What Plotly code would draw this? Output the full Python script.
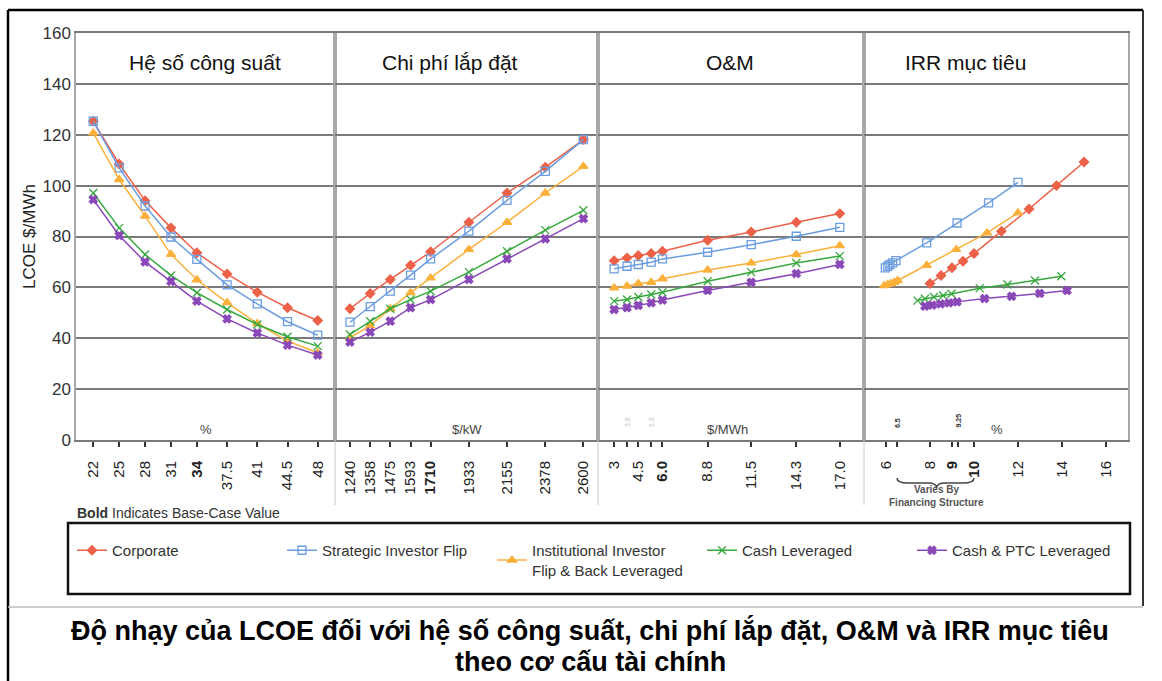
import plotly.graph_objects as go

# ---------------- data ----------------
series_names = ["Corporate", "Strategic Investor Flip",
                "Institutional Investor<br>Flip & Back Leveraged",
                "Cash Leveraged", "Cash & PTC Leveraged"]

# Panel 1: capacity factor (%)
cf_x = [22, 25, 28, 31, 34, 37.5, 41, 44.5, 48]
cf_ticktext = ["22", "25", "28", "31", "<b>34</b>", "37.5", "41", "44.5", "48"]
cf_corporate = [125.3, 108.5, 94.1, 83.4, 73.6, 65.3, 58.1, 52.0, 47.0]
cf_strategic = [125.3, 107.0, 92.0, 79.8, 71.0, 61.0, 53.5, 46.5, 41.2]
cf_institutional = [120.7, 102.4, 88.0, 73.0, 63.0, 54.0, 45.8, 38.9, 34.3]
cf_cash = [97.1, 83.4, 72.9, 64.7, 57.9, 51.3, 45.4, 40.6, 36.9]
cf_cash_ptc = [94.5, 80.4, 70.0, 62.4, 54.6, 47.6, 42.1, 37.3, 33.4]

# Panel 2: installed cost ($/kW)
ic_x = [1240, 1358, 1475, 1593, 1710, 1933, 2155, 2378, 2600]
ic_ticktext = ["1240", "1358", "1475", "1593", "<b>1710</b>", "1933", "2155", "2378", "2600"]
ic_corporate = [51.6, 57.6, 63.1, 68.7, 74.0, 85.6, 97.1, 107.2, 118.1]
ic_strategic = [46.3, 52.4, 58.5, 64.8, 71.2, 82.1, 94.2, 105.6, 118.1]
ic_institutional = [40.2, 45.0, 51.6, 57.9, 63.7, 74.9, 85.6, 97.1, 107.6]
ic_cash = [41.5, 46.7, 51.6, 55.2, 58.5, 66.0, 74.2, 82.5, 90.3]
ic_cash_ptc = [38.5, 42.4, 46.7, 52.0, 55.2, 63.1, 71.2, 79.1, 87.0]

# Panel 3: O&M ($/MWh)
om_x = [3, 3.8, 4.5, 5.3, 6.0, 8.8, 11.5, 14.3, 17.0]
om_ticktext = ["3", "", "4.5", "", "<b>6.0</b>", "8.8", "11.5", "14.3", "17.0"]
om_faint_labels = ["3.8", "5.3"]
om_faint_x = [3.8, 5.3]
om_corporate = [70.5, 71.6, 72.5, 73.3, 74.2, 78.5, 81.8, 85.6, 89.0]
om_strategic = [67.3, 68.3, 69.0, 69.9, 71.2, 73.8, 76.8, 80.1, 83.6]
om_institutional = [59.8, 60.5, 61.5, 62.0, 63.4, 66.8, 69.6, 72.9, 76.4]
om_cash = [54.6, 55.2, 56.2, 57.2, 58.1, 62.4, 66.0, 69.6, 72.3]
om_cash_ptc = [51.3, 52.0, 52.9, 53.9, 55.0, 58.8, 62.0, 65.4, 69.0]

# Panel 4: target IRR (%)
irr_tickvals = [6, 6.5, 8, 9, 9.25, 10, 12, 14, 16]
irr_ticktext = ["6", "", "8", "<b>9</b>", "", "<b>10</b>", "12", "14", "16"]
irr_small_labels = ["6.5", "9.25"]
irr_small_x = [6.5, 9.25]
irr_corporate_x = [8, 8.5, 9, 9.5, 10, 11.25, 12.5, 13.75, 15]
irr_corporate = [61.5, 64.7, 67.7, 70.3, 73.3, 82.1, 90.8, 100.0, 109.3]
irr_strategic_x = [5.97, 6.08, 6.18, 6.3, 6.45, 7.85, 9.23, 10.66, 12.0]
irr_strategic = [67.7, 68.3, 69.0, 69.6, 70.5, 77.5, 85.3, 93.2, 101.3]
irr_institutional_x = [5.92, 6.08, 6.23, 6.38, 6.53, 7.85, 9.19, 10.59, 12.0]
irr_institutional = [60.7, 61.1, 61.5, 62.0, 62.7, 68.7, 74.9, 81.4, 89.3]
irr_cash_x = [7.43, 7.77, 8.18, 8.6, 8.98, 10.26, 11.52, 12.77, 13.97]
irr_cash = [54.8, 55.5, 56.2, 56.8, 57.5, 59.7, 61.1, 62.7, 64.4]
irr_cash_ptc_x = [7.77, 8.1, 8.48, 8.86, 9.23, 10.48, 11.71, 12.99, 14.23]
irr_cash_ptc = [52.6, 53.0, 53.5, 53.9, 54.3, 55.6, 56.5, 57.6, 58.8]

panel_titles = ["Hệ số công suất", "Chi phí lắp đặt", "O&M", "IRR mục tiêu"]
panel_units = ["%", "$/kW", "$/MWh", "%"]
y_ticks = [0, 20, 40, 60, 80, 100, 120, 140, 160]
chart_title_lines = ["Độ nhạy của LCOE đối với hệ số công suất, chi phí lắp đặt, O&M và IRR mục tiêu",
                     "theo cơ cấu tài chính"]

# ---------------- layout helpers (pixel -> paper) ----------------
W, H = 1162, 681
ML, MR, MT, MB = 76, 34, 33, 241
PW, PH = W - ML - MR, H - MT - MB


def px(xp):
    return (xp - ML) / PW


def py(yp):
    return (H - MB - yp) / PH


bounds = [76, 335, 598, 864, 1128]
domains = [[px(bounds[i]), px(bounds[i + 1])] for i in range(4)]
x_ranges = [[20, 50], [1153, 2685], [2, 18.5], [5, 17]]

styles = [
    dict(color="#ec6148", symbol="diamond", size=7),
    dict(color="#6b9de0", symbol="square-open", size=8),
    dict(color="#fbb03b", symbol="triangle-up", size=8),
    dict(color="#38a83e", symbol="x-thin-open", size=8),
    dict(color="#8a48b8", symbol="x", size=7),
]

panels = [
    ("x", [cf_x] * 5, [cf_corporate, cf_strategic, cf_institutional, cf_cash, cf_cash_ptc]),
    ("x2", [ic_x] * 5, [ic_corporate, ic_strategic, ic_institutional, ic_cash, ic_cash_ptc]),
    ("x3", [om_x] * 5, [om_corporate, om_strategic, om_institutional, om_cash, om_cash_ptc]),
    ("x4", [irr_corporate_x, irr_strategic_x, irr_institutional_x, irr_cash_x, irr_cash_ptc_x],
     [irr_corporate, irr_strategic, irr_institutional, irr_cash, irr_cash_ptc]),
]

fig = go.Figure()
for pi, (xa, xs, ys) in enumerate(panels):
    for si in range(5):
        st = styles[si]
        fig.add_trace(go.Scatter(
            x=xs[si], y=ys[si], xaxis=xa, yaxis="y",
            mode="lines+markers", name=series_names[si],
            legendgroup=str(si), showlegend=(pi == 0),
            line=dict(color=st["color"], width=1.5),
            marker=dict(color=st["color"], symbol=st["symbol"], size=st["size"],
                        line=dict(color=st["color"], width=1.3)),
        ))

font_family = "Liberation Sans, Arial, sans-serif"
tick_sets = [(cf_x, cf_ticktext), (ic_x, ic_ticktext), (om_x, om_ticktext), (irr_tickvals, irr_ticktext)]

layout = dict(
    width=W, height=H, autosize=False,
    margin=dict(l=ML, r=MR, t=MT, b=MB, pad=0),
    paper_bgcolor="white", plot_bgcolor="white",
    font=dict(family=font_family, color="#222"),
    showlegend=True,
    legend=dict(orientation="h", x=px(72), xanchor="left", y=py(560), yanchor="middle",
                font=dict(size=15, color="#333"), entrywidth=165, entrywidthmode="pixels",
                itemwidth=30, bgcolor="rgba(0,0,0,0)", borderwidth=0),
    yaxis=dict(range=[0, 160], tickvals=y_ticks, showgrid=True, gridcolor="#7a7a7a", gridwidth=2,
               zeroline=False, showline=True, linecolor="#a8a8a8", linewidth=1.5, mirror="all",
               ticks="", tickfont=dict(size=17, color="#333"),
               title=dict(text="LCOE $/MWh", font=dict(size=17, color="#222"), standoff=3),
               anchor="x", fixedrange=True),
)
for i in range(4):
    key = "xaxis" if i == 0 else "xaxis%d" % (i + 1)
    tv, tt = tick_sets[i]
    layout[key] = dict(domain=domains[i], range=x_ranges[i], anchor="y",
                       tickmode="array", tickvals=tv, ticktext=tt, tickangle=-90,
                       ticks="outside", ticklen=5, tickwidth=2, tickcolor="#333",
                       ticklabelstandoff=8,
                       tickfont=dict(size=15, color="#222"),
                       showgrid=False, zeroline=False, showline=True, linecolor="#7a7a7a",
                       linewidth=2, mirror=True, fixedrange=True)
fig.update_layout(**layout)

ann = []
title_x = [205, 450, 730, 965]
for i in range(4):
    ann.append(dict(text=panel_titles[i], x=px(title_x[i]), xref="paper", y=148.6, yref="y",
                    showarrow=False, font=dict(size=21, color="#111"), xanchor="center", yanchor="middle"))
unit_x = [206, 467, 727, 997]
for i in range(4):
    ann.append(dict(text=panel_units[i], x=px(unit_x[i]), xref="paper", y=py(429), yref="paper",
                    showarrow=False, font=dict(size=13, color="#444"), xanchor="center", yanchor="middle"))
for lab, xv in zip(om_faint_labels, om_faint_x):
    ann.append(dict(text=lab, x=xv, xref="x3", y=py(429), yref="paper", textangle=-90,
                    showarrow=False, font=dict(size=7, color="#c8c8c8")))
for lab, xv in zip(irr_small_labels, irr_small_x):
    ann.append(dict(text="<b>%s</b>" % lab, x=xv, xref="x4", y=py(430), yref="paper", textangle=-90,
                    showarrow=False, font=dict(size=7, color="#333")))
ann.append(dict(text="<b>Varies By</b>", x=8.3, xref="x4", y=py(497), yref="paper",
                showarrow=False, font=dict(size=10, color="#555")))
ann.append(dict(text="<b>Financing Structure</b>", x=8.3, xref="x4", y=py(510), yref="paper",
                showarrow=False, font=dict(size=10, color="#555")))
ann.append(dict(text="<b>Bold</b> Indicates Base-Case Value", x=px(75), xref="paper", y=py(513),
                yref="paper", xanchor="left", yanchor="middle", showarrow=False,
                font=dict(size=14, color="#333")))
for line_text, yline in zip(chart_title_lines, [630, 662]):
    ann.append(dict(text="<b>%s</b>" % line_text, x=px(590), xref="paper", y=py(yline), yref="paper",
                    xanchor="center", yanchor="middle", showarrow=False,
                    font=dict(size=27, color="#000")))
fig.update_layout(annotations=ann)

shapes = []
# outer frame
shapes.append(dict(type="line", xref="paper", yref="paper", x0=px(8), x1=px(1143), y0=py(10), y1=py(10),
                   line=dict(color="#000", width=2.5)))
shapes.append(dict(type="line", xref="paper", yref="paper", x0=px(8), x1=px(8), y0=py(10), y1=py(681),
                   line=dict(color="#000", width=2.5)))
shapes.append(dict(type="line", xref="paper", yref="paper", x0=px(1143), x1=px(1143), y0=py(10), y1=py(606),
                   line=dict(color="#333", width=2)))
shapes.append(dict(type="line", xref="paper", yref="paper", x0=px(8), x1=px(1143), y0=py(607), y1=py(607),
                   line=dict(color="#bbb", width=1.5)))
# legend box
shapes.append(dict(type="rect", xref="paper", yref="paper", x0=px(68), x1=px(1130), y0=py(523), y1=py(594),
                   line=dict(color="#111", width=2.5)))
# separators below the axis
for b in bounds[1:4]:
    shapes.append(dict(type="line", xref="paper", yref="paper", x0=px(b), x1=px(b), y0=0, y1=py(505),
                       line=dict(color="#c8c8c8", width=1)))
# brace under IRR axis
yt, ym, yb = py(478), py(483), py(488)
brace = ("M 6.5,{t} Q 6.5,{m} 7.0,{m} L 7.9,{m} Q 8.3,{m} 8.3,{b} "
         "Q 8.3,{m} 8.7,{m} L 9.5,{m} Q 10,{m} 10,{t}").format(t=yt, m=ym, b=yb)
shapes.append(dict(type="path", xref="x4", yref="paper", path=brace, line=dict(color="#444", width=1.5)))
fig.update_layout(shapes=shapes)

fig.write_html("out.html")
